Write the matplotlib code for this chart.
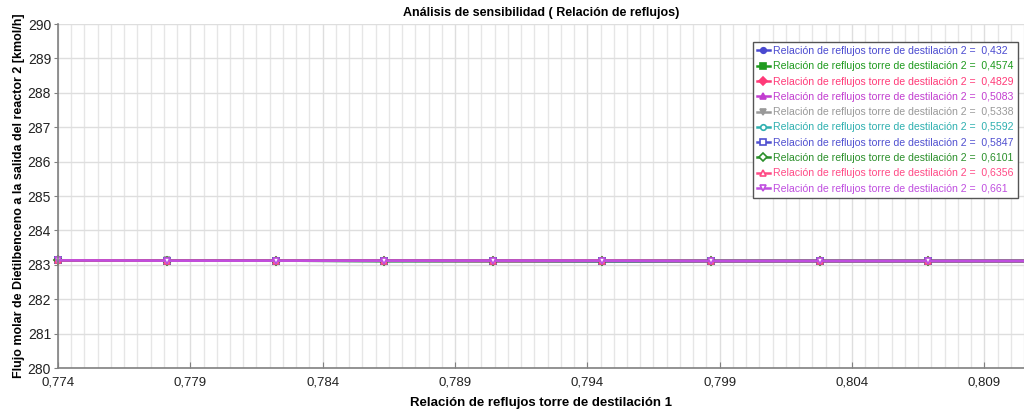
import matplotlib
matplotlib.use("Agg")
import matplotlib.pyplot as plt
from matplotlib.ticker import FixedLocator, MultipleLocator, FuncFormatter

plt.rcParams['font.family'] = ['Liberation Sans', 'DejaVu Sans']

# Reflux ratio of column 1 (x) and molar flow of diethylbenzene (y) for each column-2 ratio
reflux_1 = [0.774, 0.77811, 0.78222, 0.78633, 0.79044, 0.79456, 0.79867, 0.80278, 0.80689, 0.811]
x_ticks = [0.774, 0.779, 0.784, 0.789, 0.794, 0.799, 0.804, 0.809]
y_ticks = [280, 281, 282, 283, 284, 285, 286, 287, 288, 289, 290]
reflux_2_labels = ['0,432', '0,4574', '0,4829', '0,5083', '0,5338',
                   '0,5592', '0,5847', '0,6101', '0,6356', '0,661']
flow_432 = [283.13, 283.12, 283.12, 283.11, 283.11, 283.11, 283.11, 283.11, 283.11, 283.11]
flow_4574 = [283.13, 283.12, 283.12, 283.11, 283.11, 283.11, 283.11, 283.11, 283.11, 283.11]
flow_4829 = [283.13, 283.12, 283.12, 283.12, 283.11, 283.11, 283.11, 283.11, 283.11, 283.11]
flow_5083 = [283.13, 283.12, 283.12, 283.12, 283.11, 283.11, 283.11, 283.11, 283.11, 283.11]
flow_5338 = [283.13, 283.13, 283.12, 283.12, 283.12, 283.11, 283.11, 283.11, 283.11, 283.11]
flow_5592 = [283.13, 283.12, 283.12, 283.12, 283.12, 283.11, 283.11, 283.11, 283.11, 283.11]
flow_5847 = [283.13, 283.12, 283.12, 283.12, 283.12, 283.11, 283.11, 283.11, 283.11, 283.11]
flow_6101 = [283.13, 283.12, 283.12, 283.11, 283.11, 283.11, 283.11, 283.11, 283.11, 283.11]
flow_6356 = [283.13, 283.12, 283.12, 283.12, 283.12, 283.12, 283.11, 283.11, 283.11, 283.11]
flow_661 = [283.13, 283.12, 283.12, 283.12, 283.12, 283.12, 283.11, 283.11, 283.11, 283.11]

series = [flow_432, flow_4574, flow_4829, flow_5083, flow_5338,
          flow_5592, flow_5847, flow_6101, flow_6356, flow_661]
colors = ['#4a4ad0', '#1e9a1e', '#ff3a78', '#c23ed0', '#999999',
          '#2fb0b0', '#5050d0', '#2a8f2a', '#ff4a86', '#c04ee0']
markers = ['o', 's', 'D', '^', 'v', 'o', 's', 'D', '^', 'v']
filled = [True, True, True, True, True, False, False, False, False, False]

fig = plt.figure(figsize=(10.24, 4.11), dpi=100)
ax = fig.add_axes([58 / 1024, 1 - 368 / 411, 1 - 58 / 1024, (368 - 24) / 411])

for ys, c, m, f, lab in zip(series, colors, markers, filled, reflux_2_labels):
    ax.plot(reflux_1, ys, color=c, lw=1.8, marker=m, ms=4,
            markerfacecolor=c if f else 'white', markeredgecolor=c, markeredgewidth=1.2,
            label='Relación de reflujos torre de destilación 2 =  ' + lab, clip_on=False)

ax.set_xlim(0.774, 0.8105)
ax.set_ylim(280, 290)
ax.xaxis.set_major_locator(FixedLocator(x_ticks))
ax.xaxis.set_minor_locator(MultipleLocator(0.0005))
ax.yaxis.set_major_locator(FixedLocator(y_ticks))
ax.xaxis.set_major_formatter(FuncFormatter(lambda v, p: ('%.3f' % v).replace('.', ',')))
ax.yaxis.set_major_formatter(FuncFormatter(lambda v, p: '%d' % round(v)))

ax.grid(which='major', color='#dedede', lw=1.0)
ax.grid(which='minor', axis='x', color='#e6e6e6', lw=1.0)
ax.set_axisbelow(True)
for s in ['top', 'right']:
    ax.spines[s].set_visible(False)
for s in ['left', 'bottom']:
    ax.spines[s].set_color('#808080')
    ax.spines[s].set_linewidth(1.2)
ax.tick_params(axis='x', which='major', direction='in', length=4, color='#808080',
               labelsize=9.5, pad=6, labelcolor='#222222')
ax.tick_params(axis='x', which='minor', length=0)
ax.tick_params(axis='y', direction='out', length=3, color='#808080',
               labelsize=10, pad=2, labelcolor='#222222')

ax.set_title('Análisis de sensibilidad ( Relación de reflujos)', fontsize=9,
             fontweight='bold', pad=6)
ax.set_xlabel('Relación de reflujos torre de destilación 1', fontsize=9.5,
              fontweight='bold', labelpad=6)
ax.set_ylabel('Flujo molar de Dietilbenceno a la salida del reactor 2 [kmol/h]',
              fontsize=9, fontweight='bold', labelpad=2)

leg = ax.legend(loc='upper right', bbox_to_anchor=(0.9935, 0.948), fontsize=7.6,
                frameon=True, fancybox=False, handlelength=1.2, handletextpad=0.3,
                labelspacing=0.5, borderpad=0.4, borderaxespad=0)
leg.get_frame().set_edgecolor('#555555')
leg.get_frame().set_linewidth(1.0)
leg.get_frame().set_alpha(1)
for t, c in zip(leg.get_texts(), colors):
    t.set_color(c)

fig.savefig('out.png', dpi=100)
